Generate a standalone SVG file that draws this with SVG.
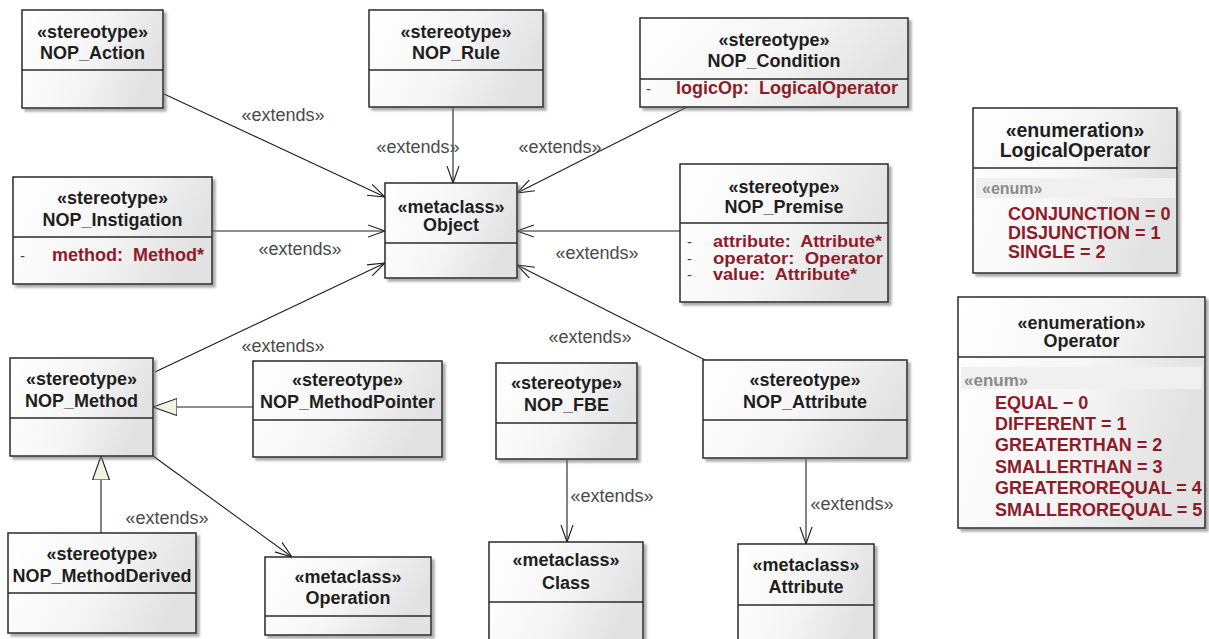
<svg xmlns="http://www.w3.org/2000/svg" width="1209" height="639" viewBox="0 0 1209 639">
<defs>
<style>
.box{fill:url(#g);stroke:#2a2a2a;stroke-width:1.5;filter:url(#sh)}
.div{stroke:#2a2a2a;stroke-width:1.5}
.t{font-family:"Liberation Sans",Arial,sans-serif;font-weight:bold;font-size:18px;fill:#1e1e1e;text-anchor:middle}
.a{font-family:"Liberation Sans",Arial,sans-serif;font-weight:bold;font-size:18px;fill:#8e1b2a}
.ap{font-family:"Liberation Sans",Arial,sans-serif;font-weight:bold;font-size:16px;fill:#8e1b2a}
.vis{font-family:"Liberation Sans",Arial,sans-serif;font-size:15px;fill:#444}
.en{font-family:"Liberation Sans",Arial,sans-serif;font-weight:bold;fill:#8a8a8a}
.lbl{font-family:"Liberation Sans",Arial,sans-serif;font-size:18px;fill:#4a4a4a;text-anchor:middle}
.c{fill:none;stroke:#1e1e1e;stroke-width:1.1}
.ext{marker-end:url(#open)}
.gen{marker-end:url(#tri)}
.band{fill:#f0f0f0}
</style>
<linearGradient id="g" x1="0" y1="0" x2="1" y2="0.3">
<stop offset="0" stop-color="#ffffff"/>
<stop offset="0.55" stop-color="#f6f6f6"/>
<stop offset="1" stop-color="#e2e2e2"/>
</linearGradient>
<filter id="sh" x="-10%" y="-10%" width="130%" height="130%">
<feDropShadow dx="3" dy="3" stdDeviation="1.2" flood-color="#777" flood-opacity="0.6"/>
</filter>
<marker id="open" markerUnits="userSpaceOnUse" markerWidth="20" markerHeight="14" refX="17" refY="7" orient="auto">
<path d="M0,1 L17,7 L0,13" fill="none" stroke="#1e1e1e" stroke-width="1.1"/>
</marker>
<marker id="tri" markerUnits="userSpaceOnUse" markerWidth="26" markerHeight="20" refX="24" refY="9" orient="auto">
<path d="M0,0.5 L24,9 L0,17.5 Z" fill="#f3f3e4" stroke="#1e1e1e" stroke-width="1.1"/>
</marker>
</defs>
<rect width="1209" height="639" fill="#ffffff"/>

<g id="connectors">
<path class="c ext" d="M164,94 L385,197"/>
<text class="lbl" x="283" y="121">«extends»</text>
<path class="c ext" d="M453,107 L453,183"/>
<text class="lbl" x="418" y="153">«extends»</text>
<path class="c ext" d="M687,107 L517,193"/>
<text class="lbl" x="560" y="153">«extends»</text>
<path class="c ext" d="M212,231 L385,231"/>
<text class="lbl" x="300" y="255">«extends»</text>
<path class="c ext" d="M680,231 L517,231"/>
<text class="lbl" x="597" y="259">«extends»</text>
<path class="c ext" d="M155,372 L385,263"/>
<text class="lbl" x="283" y="352">«extends»</text>
<path class="c ext" d="M705,360 L517,265"/>
<text class="lbl" x="590" y="343">«extends»</text>
<path class="c gen" d="M253,407 L153,407"/>
<path class="c gen" d="M101,533 L101,456"/>
<path class="c ext" d="M153,456 L292,557"/>
<text class="lbl" x="167" y="524">«extends»</text>
<path class="c ext" d="M567,459 L567,542"/>
<text class="lbl" x="612" y="502">«extends»</text>
<path class="c ext" d="M806,458 L806,544"/>
<text class="lbl" x="852" y="510">«extends»</text>
</g>

<g id="NOP_Action">
<rect class="box" x="22" y="10" width="141" height="98"/>
<line class="div" x1="22" y1="70" x2="163" y2="70"/>
<text class="t" x="92.5" y="38">«stereotype»</text>
<text class="t" x="92.5" y="59">NOP_Action</text>
</g>

<g id="NOP_Rule">
<rect class="box" x="369" y="10" width="174" height="97"/>
<line class="div" x1="369" y1="70" x2="543" y2="70"/>
<text class="t" x="456" y="38">«stereotype»</text>
<text class="t" x="456" y="59">NOP_Rule</text>
</g>

<g id="NOP_Condition">
<rect class="box" x="640" y="18" width="268" height="89"/>
<line class="div" x1="640" y1="79" x2="908" y2="79"/>
<text class="t" x="774" y="46">«stereotype»</text>
<text class="t" x="774" y="67">NOP_Condition</text>
<text class="vis" x="646" y="94">-</text>
<text class="a" x="676" y="94" xml:space="preserve">logicOp:  LogicalOperator</text>
</g>

<g id="NOP_Instigation">
<rect class="box" x="13" y="177" width="199" height="107"/>
<line class="div" x1="13" y1="237" x2="212" y2="237"/>
<text class="t" x="112.5" y="204">«stereotype»</text>
<text class="t" x="112.5" y="226">NOP_Instigation</text>
<text class="vis" x="20" y="261">-</text>
<text class="a" x="52" y="261" xml:space="preserve">method:  Method*</text>
</g>

<g id="Object">
<rect class="box" x="385" y="183" width="132" height="95"/>
<line class="div" x1="385" y1="243" x2="517" y2="243"/>
<text class="t" x="451" y="213">«metaclass»</text>
<text class="t" x="451" y="231">Object</text>
</g>

<g id="NOP_Premise">
<rect class="box" x="680" y="164" width="208" height="138"/>
<line class="div" x1="680" y1="223" x2="888" y2="223"/>
<text class="t" x="784" y="193">«stereotype»</text>
<text class="t" x="784" y="213">NOP_Premise</text>
<text class="vis" x="687" y="247">-</text>
<text class="ap" x="713" y="247" textLength="169" lengthAdjust="spacingAndGlyphs" xml:space="preserve">attribute:  Attribute*</text>
<text class="vis" x="687" y="263.5">-</text>
<text class="ap" x="713" y="263.5" textLength="170" lengthAdjust="spacingAndGlyphs" xml:space="preserve">operator:  Operator</text>
<text class="vis" x="687" y="280">-</text>
<text class="ap" x="713" y="280" textLength="144" lengthAdjust="spacingAndGlyphs" xml:space="preserve">value:  Attribute*</text>
</g>

<g id="NOP_Method">
<rect class="box" x="10" y="358" width="143" height="98"/>
<line class="div" x1="10" y1="418" x2="153" y2="418"/>
<text class="t" x="81.5" y="385">«stereotype»</text>
<text class="t" x="81.5" y="407">NOP_Method</text>
</g>

<g id="NOP_MethodPointer">
<rect class="box" x="253" y="361" width="189" height="96"/>
<line class="div" x1="253" y1="420" x2="442" y2="420"/>
<text class="t" x="347.5" y="386">«stereotype»</text>
<text class="t" x="347.5" y="408">NOP_MethodPointer</text>
</g>

<g id="NOP_MethodDerived">
<rect class="box" x="8" y="533" width="188" height="100"/>
<line class="div" x1="8" y1="593" x2="196" y2="593"/>
<text class="t" x="102" y="560">«stereotype»</text>
<text class="t" x="102" y="582">NOP_MethodDerived</text>
</g>

<g id="Operation">
<rect class="box" x="265" y="557" width="166" height="78"/>
<line class="div" x1="265" y1="616" x2="431" y2="616"/>
<text class="t" x="348" y="583">«metaclass»</text>
<text class="t" x="348" y="604">Operation</text>
</g>

<g id="NOP_FBE">
<rect class="box" x="496" y="363" width="141" height="96"/>
<line class="div" x1="496" y1="423" x2="637" y2="423"/>
<text class="t" x="566.5" y="389">«stereotype»</text>
<text class="t" x="566.5" y="411">NOP_FBE</text>
</g>

<g id="Class">
<rect class="box" x="489" y="542" width="154" height="100"/>
<line class="div" x1="489" y1="602" x2="643" y2="602"/>
<text class="t" x="566" y="566">«metaclass»</text>
<text class="t" x="566" y="589">Class</text>
</g>

<g id="NOP_Attribute">
<rect class="box" x="703" y="360" width="204" height="98"/>
<line class="div" x1="703" y1="420" x2="907" y2="420"/>
<text class="t" x="805" y="386">«stereotype»</text>
<text class="t" x="805" y="408">NOP_Attribute</text>
</g>

<g id="Attribute">
<rect class="box" x="738" y="544" width="136" height="100"/>
<line class="div" x1="738" y1="605" x2="874" y2="605"/>
<text class="t" x="806" y="571">«metaclass»</text>
<text class="t" x="806" y="593">Attribute</text>
</g>

<g id="LogicalOperator">
<rect class="box" x="973" y="108" width="204" height="165"/>
<line class="div" x1="973" y1="168" x2="1177" y2="168"/>
<rect class="band" x="976" y="178" width="199" height="20"/>
<text class="t" x="1075" y="137" style="font-size:19.5px">«enumeration»</text>
<text class="t" x="1075" y="157" style="font-size:19.5px">LogicalOperator</text>
<text class="en" x="982" y="194" style="font-size:16px">«enum»</text>
<text class="a" x="1008" y="220">CONJUNCTION = 0</text>
<text class="a" x="1008" y="239">DISJUNCTION = 1</text>
<text class="a" x="1008" y="258">SINGLE = 2</text>
</g>

<g id="Operator">
<rect class="box" x="958" y="297" width="247" height="231"/>
<line class="div" x1="958" y1="357" x2="1205" y2="357"/>
<rect class="band" x="961" y="367" width="241" height="22"/>
<text class="t" x="1081.5" y="329">«enumeration»</text>
<text class="t" x="1081.5" y="347">Operator</text>
<text class="en" x="964" y="386" style="font-size:17px">«enum»</text>
<text class="a" x="995" y="409">EQUAL − 0</text>
<text class="a" x="995" y="430">DIFFERENT = 1</text>
<text class="a" x="995" y="451">GREATERTHAN = 2</text>
<text class="a" x="995" y="473">SMALLERTHAN = 3</text>
<text class="a" x="995" y="494">GREATEROREQUAL = 4</text>
<text class="a" x="995" y="516">SMALLEROREQUAL = 5</text>
</g>
</svg>
